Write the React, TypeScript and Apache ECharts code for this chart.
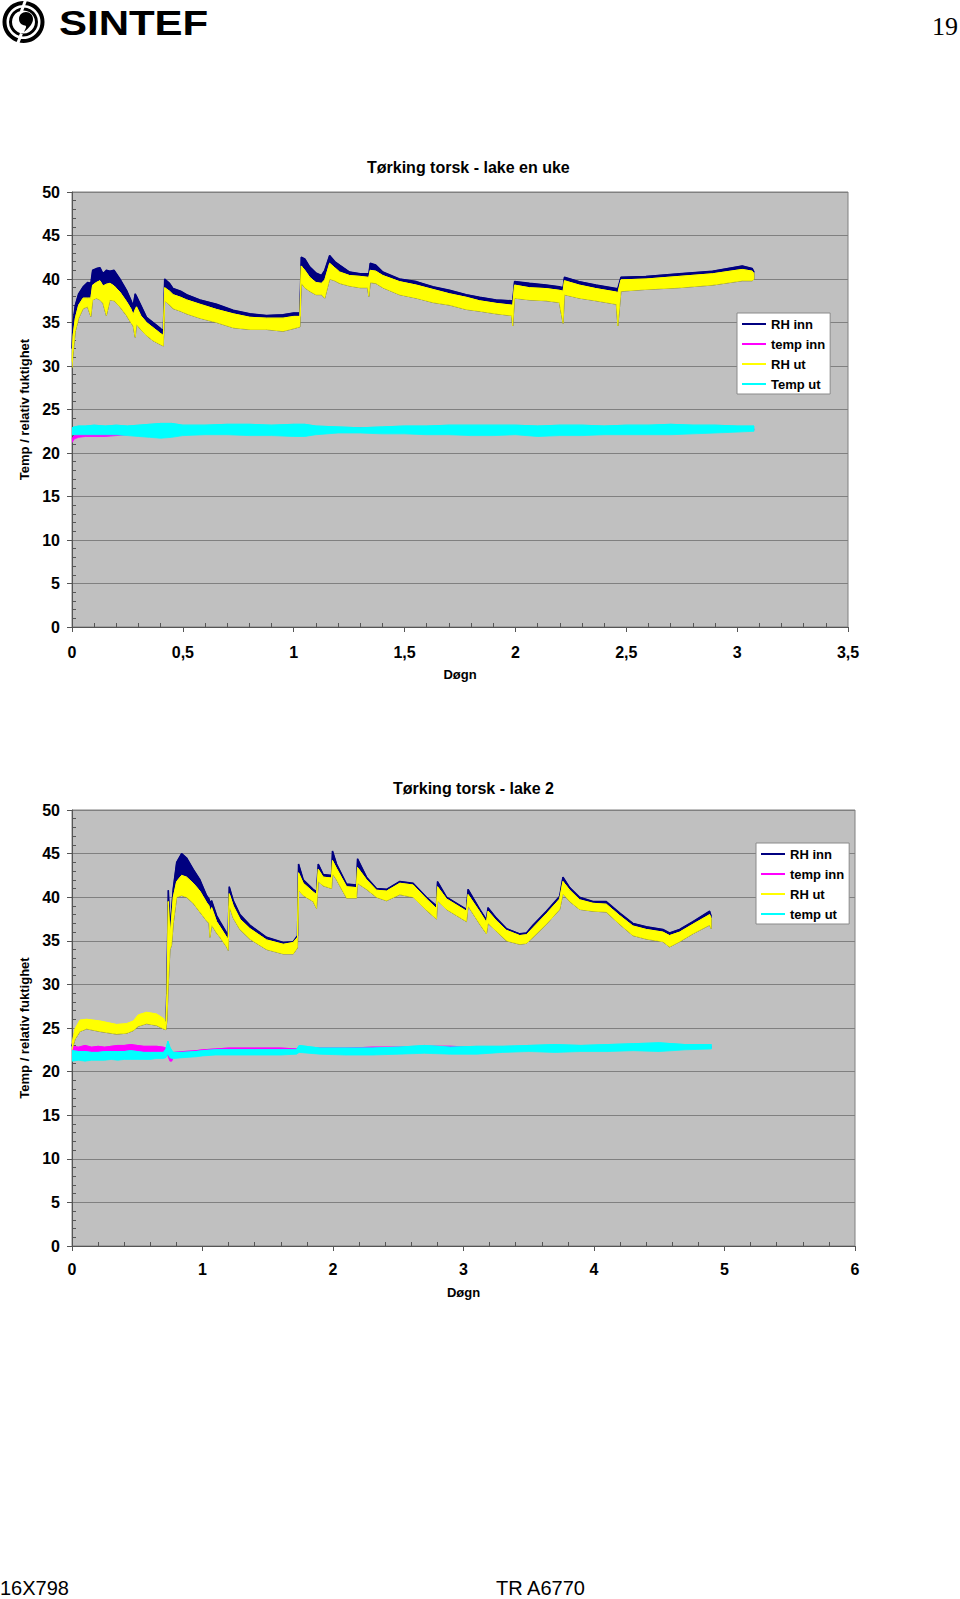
import React, { useEffect, useRef } from "react";
import * as echarts from "echarts";

// ---------------- Chart 1: "Tørking torsk - lake en uke" ----------------
const c1Title = "Tørking torsk - lake en uke";
const c1Legend = ["RH inn", "temp inn", "RH ut", "Temp ut"];
const c1Days = [0, 0.005, 0.015, 0.03, 0.05, 0.07, 0.085, 0.093, 0.11, 0.126, 0.14, 0.155, 0.171, 0.19, 0.216, 0.246, 0.265, 0.276, 0.285, 0.291, 0.31, 0.336, 0.366, 0.396, 0.412, 0.418, 0.44, 0.456, 0.49, 0.517, 0.577, 0.652, 0.727, 0.802, 0.877, 0.952, 1.0, 1.028, 1.034, 1.05, 1.072, 1.1, 1.125, 1.14, 1.162, 1.185, 1.207, 1.252, 1.3, 1.333, 1.339, 1.345, 1.37, 1.402, 1.477, 1.553, 1.628, 1.703, 1.778, 1.838, 1.913, 1.982, 1.988, 1.996, 2.063, 2.138, 2.198, 2.215, 2.221, 2.288, 2.363, 2.455, 2.462, 2.476, 2.589, 2.739, 2.889, 3.023, 3.068, 3.076];
// upper edge of the "RH inn" trace
const c1RhInnTop = [32.0, 35.0, 37.0, 38.3, 39.1, 39.6, 39.5, 41.0, 41.2, 41.3, 40.6, 41.0, 40.9, 41.0, 40.0, 38.7, 37.6, 36.9, 38.3, 38.0, 37.0, 35.6, 35.0, 34.4, 34.0, 40.0, 39.5, 38.9, 38.6, 38.2, 37.6, 37.1, 36.4, 36.0, 35.8, 35.9, 36.1, 36.1, 42.5, 42.3, 41.4, 40.7, 40.4, 41.0, 42.7, 42.0, 41.6, 40.8, 40.6, 40.6, 40.6, 41.8, 41.6, 40.8, 40.0, 39.7, 39.1, 38.7, 38.2, 37.9, 37.6, 37.5, 37.5, 39.7, 39.5, 39.3, 39.1, 39.0, 40.2, 39.7, 39.3, 38.9, 38.9, 40.2, 40.3, 40.6, 40.9, 41.5, 41.2, 40.8];
// upper / lower edge of the "RH ut" trace
const c1RhUtTop = [30.5, 33.5, 35.5, 37.0, 37.8, 37.8, 37.8, 39.3, 39.6, 39.8, 39.2, 39.4, 39.5, 39.2, 38.5, 37.4, 36.6, 35.9, 36.5, 36.8, 35.8, 35.0, 34.4, 33.8, 33.5, 39.0, 38.6, 38.2, 37.9, 37.6, 37.1, 36.5, 36.0, 35.6, 35.5, 35.5, 35.7, 35.7, 41.5, 41.0, 40.2, 39.6, 39.5, 39.9, 41.8, 41.3, 40.8, 40.4, 40.3, 40.2, 40.2, 41.0, 40.9, 40.4, 39.7, 39.3, 38.8, 38.3, 37.9, 37.5, 37.2, 37.0, 37.0, 39.3, 39.0, 38.9, 38.7, 38.6, 39.8, 39.3, 38.9, 38.5, 38.4, 39.9, 40.0, 40.3, 40.6, 41.1, 40.9, 40.6];
const c1RhUtBottom = [29.8, 31.5, 34.0, 35.5, 36.6, 36.8, 35.7, 37.6, 37.8, 37.6, 37.2, 35.8, 37.6, 37.5, 36.8, 35.8, 35.0, 34.6, 33.3, 34.8, 34.2, 33.5, 32.9, 32.5, 32.3, 37.5, 37.0, 36.6, 36.3, 36.0, 35.5, 35.0, 34.4, 34.2, 34.2, 34.0, 34.3, 34.5, 39.5, 39.0, 38.6, 38.2, 38.2, 37.8, 40.0, 39.8, 39.5, 39.2, 39.0, 39.0, 38.0, 39.6, 39.5, 39.0, 38.2, 37.8, 37.3, 37.0, 36.5, 36.3, 36.0, 35.8, 34.6, 37.8, 37.6, 37.5, 37.3, 34.9, 38.2, 37.8, 37.5, 37.1, 34.6, 38.6, 38.8, 39.0, 39.3, 39.8, 39.8, 40.0];
const c1TempDays = [0, 0.01, 0.03, 0.06, 0.1, 0.15, 0.2, 0.25, 0.3, 0.35, 0.4, 0.45, 0.5, 0.6, 0.7, 0.8, 0.9, 1.0, 1.05, 1.1, 1.2, 1.3, 1.4, 1.5, 1.6, 1.7, 1.8, 1.9, 2.0, 2.1, 2.2, 2.3, 2.4, 2.5, 2.6, 2.7, 2.8, 2.9, 3.0, 3.076];
const c1TempInnTop = [21.6, 22.0, 22.3, 22.4, 22.3, 22.3, 22.3, 22.4, 22.5, 22.6, 22.6, 22.6, 22.7, 22.7, 22.7, 22.7, 22.8, 22.8, 22.8, 22.8, 22.8, 22.9, 22.8, 22.8, 22.8, 22.8, 22.8, 22.8, 22.8, 22.8, 22.8, 22.8, 22.8, 22.8, 22.8, 22.8, 22.8, 22.8, 22.8, 22.8];
const c1TempInnBottom = [21.2, 21.6, 21.8, 21.9, 21.9, 21.9, 22.0, 22.1, 22.2, 22.3, 22.3, 22.4, 22.4, 22.4, 22.5, 22.5, 22.5, 22.6, 22.6, 22.6, 22.6, 22.7, 22.6, 22.6, 22.6, 22.6, 22.6, 22.6, 22.6, 22.6, 22.6, 22.6, 22.6, 22.6, 22.6, 22.6, 22.6, 22.6, 22.6, 22.6];
const c1TempUtTop = [22.9, 23.0, 23.1, 23.1, 23.2, 23.1, 23.2, 23.1, 23.2, 23.3, 23.4, 23.4, 23.2, 23.2, 23.3, 23.3, 23.2, 23.3, 23.3, 23.1, 23.0, 22.9, 23.0, 23.1, 23.1, 23.2, 23.2, 23.2, 23.2, 23.1, 23.2, 23.2, 23.1, 23.2, 23.2, 23.3, 23.2, 23.2, 23.1, 23.1];
const c1TempUtBottom = [22.1, 22.1, 22.1, 22.1, 22.1, 22.1, 22.1, 22.0, 21.9, 21.8, 21.7, 21.8, 22.0, 22.1, 22.1, 22.0, 22.0, 21.9, 21.9, 22.1, 22.3, 22.3, 22.2, 22.2, 22.1, 22.1, 22.0, 22.0, 22.1, 21.9, 22.0, 22.0, 22.1, 22.1, 22.1, 22.1, 22.2, 22.3, 22.4, 22.5];

// ---------------- Chart 2: "Tørking torsk - lake 2" ----------------
const c2Title = "Tørking torsk - lake 2";
const c2Legend = ["RH inn", "temp inn", "RH ut", "temp ut"];
const c2Days = [0, 0.023, 0.061, 0.112, 0.214, 0.342, 0.419, 0.470, 0.508, 0.572, 0.648, 0.700, 0.720, 0.728, 0.738, 0.751, 0.763, 0.776, 0.802, 0.840, 0.878, 0.929, 0.980, 1.031, 1.050, 1.057, 1.070, 1.108, 1.134, 1.185, 1.197, 1.205, 1.236, 1.287, 1.363, 1.491, 1.619, 1.695, 1.728, 1.736, 1.772, 1.848, 1.874, 1.887, 1.925, 1.989, 1.996, 2.027, 2.104, 2.180, 2.188, 2.257, 2.333, 2.410, 2.512, 2.614, 2.716, 2.793, 2.801, 2.870, 3.023, 3.035, 3.125, 3.176, 3.188, 3.252, 3.329, 3.431, 3.482, 3.533, 3.635, 3.737, 3.762, 3.814, 3.890, 3.992, 4.094, 4.196, 4.298, 4.401, 4.528, 4.579, 4.656, 4.758, 4.886, 4.898];
const c2RhInnTop = [22.9, 24.6, 25.6, 25.7, 25.5, 25.1, 25.2, 25.5, 26.2, 26.5, 26.3, 25.8, 25.2, 30.0, 40.8, 36.5, 38.5, 41.0, 44.0, 45.0, 44.5, 43.2, 42.0, 40.2, 39.8, 39.3, 39.6, 37.9, 37.2, 35.9, 35.6, 41.2, 39.6, 38.0, 36.8, 35.4, 34.8, 34.9, 35.6, 43.8, 42.0, 40.9, 40.6, 43.8, 42.6, 42.5, 45.3, 43.8, 41.5, 41.4, 44.4, 42.3, 41.0, 40.9, 41.8, 41.6, 40.0, 39.0, 41.8, 40.0, 38.6, 40.9, 38.6, 37.4, 38.8, 37.6, 36.4, 35.8, 35.9, 36.8, 38.4, 40.1, 42.3, 41.1, 40.0, 39.5, 39.5, 38.2, 37.0, 36.6, 36.3, 35.9, 36.3, 37.2, 38.4, 37.8];
const c2RhUtTop = [23.2, 24.9, 25.9, 26.0, 25.8, 25.4, 25.5, 25.8, 26.5, 26.8, 26.6, 26.1, 25.5, 29.0, 39.5, 35.5, 37.5, 40.0, 41.8, 42.5, 42.3, 41.6, 40.7, 39.4, 39.0, 38.3, 38.8, 37.2, 36.6, 35.4, 35.2, 40.4, 39.0, 37.5, 36.4, 35.1, 34.6, 34.8, 35.4, 42.8, 41.6, 40.6, 40.3, 43.2, 42.3, 42.2, 44.2, 43.3, 41.2, 41.1, 43.4, 42.0, 40.8, 40.7, 41.6, 41.4, 39.8, 38.7, 41.2, 39.8, 38.4, 40.3, 38.3, 37.1, 38.4, 37.3, 36.2, 35.6, 35.7, 36.5, 38.1, 39.8, 41.8, 40.8, 39.7, 39.3, 39.2, 37.9, 36.7, 36.3, 36.0, 35.6, 36.0, 36.9, 38.0, 37.5];
const c2RhUtBottom = [22.5, 23.7, 24.6, 24.9, 24.6, 24.3, 24.4, 24.7, 25.2, 25.5, 25.3, 24.9, 24.8, 26.0, 30.0, 34.0, 34.5, 37.0, 40.0, 40.2, 40.0, 39.3, 38.3, 37.3, 37.0, 35.4, 36.8, 35.9, 35.4, 34.3, 33.9, 39.0, 37.6, 36.3, 35.2, 34.0, 33.5, 33.5, 34.2, 40.8, 40.2, 39.5, 38.7, 41.8, 41.3, 41.0, 42.7, 42.0, 39.9, 39.9, 41.6, 40.9, 40.0, 39.6, 40.3, 40.0, 38.5, 37.5, 39.6, 38.6, 37.2, 39.0, 36.9, 35.8, 37.0, 36.1, 35.0, 34.6, 34.7, 35.4, 36.9, 38.6, 40.4, 39.5, 38.6, 38.4, 38.3, 36.9, 35.6, 35.2, 34.9, 34.3, 34.9, 35.8, 36.8, 36.4];
const c2TempDays = [0, 0.05, 0.1, 0.15, 0.2, 0.25, 0.3, 0.35, 0.4, 0.45, 0.5, 0.55, 0.6, 0.65, 0.7, 0.72, 0.735, 0.75, 0.765, 0.78, 0.85, 0.95, 1.0, 1.1, 1.2, 1.4, 1.6, 1.72, 1.74, 1.9, 2.1, 2.3, 2.5, 2.7, 2.9, 3.1, 3.3, 3.5, 3.7, 3.9, 4.1, 4.3, 4.5, 4.7, 4.9];
const c2TempInnTop = [22.9, 22.8, 23.0, 22.8, 22.9, 22.8, 22.9, 23.0, 23.0, 23.1, 23.0, 22.9, 22.9, 22.9, 22.8, 22.7, 22.5, 22.0, 21.9, 22.2, 22.3, 22.4, 22.5, 22.6, 22.7, 22.7, 22.7, 22.6, 22.8, 22.7, 22.7, 22.8, 22.8, 22.9, 22.9, 22.8, 22.8, 22.9, 22.9, 22.9, 22.9, 22.9, 22.9, 22.9, 22.9];
const c2TempInnBottom = [22.1, 22.1, 22.2, 22.1, 22.2, 22.1, 22.2, 22.2, 22.3, 22.3, 22.3, 22.2, 22.2, 22.2, 22.1, 22.0, 21.8, 21.2, 21.2, 21.8, 22.0, 22.2, 22.3, 22.4, 22.5, 22.5, 22.5, 22.4, 22.5, 22.5, 22.5, 22.6, 22.6, 22.7, 22.7, 22.6, 22.6, 22.7, 22.7, 22.7, 22.7, 22.7, 22.7, 22.7, 22.7];
const c2TempUtTop = [22.4, 22.3, 22.3, 22.2, 22.2, 22.3, 22.3, 22.3, 22.3, 22.4, 22.3, 22.2, 22.2, 22.2, 22.2, 22.6, 23.5, 22.8, 22.4, 22.2, 22.2, 22.3, 22.4, 22.5, 22.5, 22.5, 22.5, 22.5, 23.0, 22.7, 22.7, 22.7, 22.8, 23.0, 22.8, 22.9, 22.9, 23.0, 23.1, 23.0, 23.1, 23.2, 23.3, 23.1, 23.1];
const c2TempUtBottom = [21.2, 21.3, 21.2, 21.3, 21.3, 21.3, 21.4, 21.3, 21.4, 21.4, 21.4, 21.4, 21.4, 21.5, 21.5, 21.6, 22.0, 21.6, 21.5, 21.5, 21.6, 21.7, 21.8, 21.9, 21.9, 21.9, 21.9, 22.0, 22.2, 22.0, 21.9, 21.9, 22.0, 22.1, 22.0, 22.0, 22.2, 22.3, 22.2, 22.3, 22.3, 22.4, 22.3, 22.5, 22.6];

// ---------------- page texts ----------------
const pageNumber = "19";
const footerLeft = "16X798";
const footerRight = "TR A6770";
const yAxisName = "Temp / relativ fuktighet";
const xAxisName = "Døgn";

const NAVY = "#000080";
const MAGENTA = "#FF00FF";
const YELLOW = "#FFFF00";
const CYAN = "#00FFFF";
const FONT = '"Liberation Sans", Arial, sans-serif';
const AXIS_COLOR = "#555555";

echarts.graphic.registerShape(
  "sintefComma",
  echarts.graphic.extendPath(
    "M7,0 C11,0 14,3 14,7 C14,11 11,15 5,20 C7,16 8,14 6,13.5 C2.5,13 0,10.5 0,7 C0,3 3,0 7,0 Z",
    {}
  )
);

// A noisy logger trace drawn as its envelope: filled band between upper and lower edge,
// plus a line on the upper edge (that line also supplies the legend entry).
// Each trace gets its own z so later traces cover earlier ones.
function trace(id: string, name: string, gi: number, days: number[], top: number[], bottom: number[], color: string, lineWidth: number, z: number) {
  return [
    {
      id: id + "-band",
      name: id + "-band",
      type: "custom",
      z,
      xAxisIndex: gi,
      yAxisIndex: gi,
      data: days.map((d, i) => [d, top[i], bottom[i]]),
      encode: { x: 0, y: [1, 2] },
      clip: true,
      silent: true,
      renderItem: (params: any, api: any) => {
        if (params.dataIndex !== 0) return null;
        const upper = days.map((d, i) => api.coord([d, top[i]]));
        const lower = days.map((d, i) => api.coord([d, bottom[i]])).reverse();
        return {
          type: "polygon",
          shape: { points: upper.concat(lower) },
          style: { fill: color, stroke: color, lineWidth: 0.8 },
        };
      },
    },
    {
      id,
      name,
      type: "line",
      z,
      xAxisIndex: gi,
      yAxisIndex: gi,
      data: days.map((d, i) => [d, top[i]]),
      symbol: "none",
      showSymbol: false,
      lineStyle: { color, width: lineWidth },
      itemStyle: { color },
      silent: true,
    },
  ];
}

function xAxis(gi: number, max: number, interval: number, labelMargin: number, nameGap: number) {
  return {
    gridIndex: gi,
    type: "value",
    min: 0,
    max,
    interval,
    name: xAxisName,
    nameLocation: "middle",
    nameGap,
    nameTextStyle: { fontFamily: FONT, fontWeight: "bold", fontSize: 13, color: "#000" },
    axisLine: { show: true, onZero: false, lineStyle: { color: AXIS_COLOR, width: 1 } },
    axisTick: { show: true, inside: false, length: 5, lineStyle: { color: AXIS_COLOR } },
    minorTick: { show: true, splitNumber: 5, length: -4, lineStyle: { color: AXIS_COLOR } },
    axisLabel: {
      margin: labelMargin,
      fontFamily: FONT,
      fontWeight: "bold",
      fontSize: 16,
      color: "#000",
      showMinLabel: true,
      showMaxLabel: true,
      formatter: (v: number) => String(v).replace(".", ","),
    },
    splitLine: { show: false },
    minorSplitLine: { show: false },
  };
}

function yAxis(gi: number) {
  return {
    gridIndex: gi,
    type: "value",
    min: 0,
    max: 50,
    interval: 5,
    name: yAxisName,
    nameLocation: "middle",
    nameGap: 37,
    nameTextStyle: { fontFamily: FONT, fontWeight: "bold", fontSize: 13, color: "#000" },
    axisLine: { show: true, onZero: false, lineStyle: { color: AXIS_COLOR, width: 1 } },
    axisTick: { show: true, inside: false, length: 5, lineStyle: { color: AXIS_COLOR } },
    minorTick: { show: true, splitNumber: 5, length: -4, lineStyle: { color: AXIS_COLOR } },
    axisLabel: {
      margin: 12,
      fontFamily: FONT,
      fontWeight: "bold",
      fontSize: 16,
      color: "#000",
      showMinLabel: true,
      showMaxLabel: true,
    },
    splitLine: { show: true, lineStyle: { color: "#808080", width: 1 } },
    minorSplitLine: { show: false },
  };
}

function legend(data: string[], left: number, top: number) {
  return {
    data,
    orient: "vertical",
    left,
    top,
    z: 20,
    padding: [4, 5, 3, 4],
    itemGap: 6,
    itemWidth: 24,
    itemHeight: 14,
    backgroundColor: "#ffffff",
    borderColor: "#8a8a8a",
    borderWidth: 1,
    borderRadius: 0,
    selectedMode: false,
    lineStyle: { width: 2 },
    itemStyle: { opacity: 0 },
    textStyle: { fontFamily: FONT, fontWeight: "bold", fontSize: 13, color: "#000", lineHeight: 14 },
  };
}

function pageText(text: string, x: number, y: number, font: string, align: string) {
  return {
    type: "text",
    x,
    y,
    silent: true,
    style: {
      text,
      font,
      fill: "#000",
      textAlign: align,
      align,
      textVerticalAlign: "middle",
      verticalAlign: "middle",
    },
  };
}

function buildOption() {
  const gridBase = { show: true, backgroundColor: "#c0c0c0", borderColor: "#808080", borderWidth: 1 };
  return {
    animation: false,
    backgroundColor: "#ffffff",
    title: [
      { text: c1Title, left: 367, top: 159, padding: 0, textStyle: { fontFamily: FONT, fontWeight: "bold", fontSize: 16, color: "#000" } },
      { text: c2Title, left: 393, top: 780, padding: 0, textStyle: { fontFamily: FONT, fontWeight: "bold", fontSize: 16, color: "#000" } },
    ],
    legend: [legend(c1Legend, 737, 313), legend(c2Legend, 756, 843)],
    grid: [
      { ...gridBase, left: 72, top: 192, width: 776, height: 435 },
      { ...gridBase, left: 72, top: 810, width: 783, height: 436 },
    ],
    xAxis: [xAxis(0, 3.5, 0.5, 17, 41), xAxis(1, 6, 1, 15, 40)],
    yAxis: [yAxis(0), yAxis(1)],
    series: [
      ...trace("c1-rhinn", c1Legend[0], 0, c1Days, c1RhInnTop, c1RhUtBottom, NAVY, 1.5, 3),
      ...trace("c1-tempinn", c1Legend[1], 0, c1TempDays, c1TempInnTop, c1TempInnBottom, MAGENTA, 1, 4),
      ...trace("c1-rhut", c1Legend[2], 0, c1Days, c1RhUtTop, c1RhUtBottom, YELLOW, 1, 5),
      ...trace("c1-temput", c1Legend[3], 0, c1TempDays, c1TempUtTop, c1TempUtBottom, CYAN, 1, 6),
      ...trace("c2-rhinn", c2Legend[0], 1, c2Days, c2RhInnTop, c2RhUtBottom, NAVY, 1.5, 3),
      ...trace("c2-tempinn", c2Legend[1], 1, c2TempDays, c2TempInnTop, c2TempInnBottom, MAGENTA, 1, 4),
      ...trace("c2-rhut", c2Legend[2], 1, c2Days, c2RhUtTop, c2RhUtBottom, YELLOW, 1, 5),
      ...trace("c2-temput", c2Legend[3], 1, c2TempDays, c2TempUtTop, c2TempUtBottom, CYAN, 1, 6),
    ],
    graphic: [
      { type: "ring", silent: true, shape: { cx: 23.5, cy: 22, r: 21, r0: 17 }, style: { fill: "#000" } },
      { type: "ring", silent: true, shape: { cx: 23.5, cy: 22, r: 14.5, r0: 11.5 }, style: { fill: "#000" } },
      { type: "rect", silent: true, x: 24, y: 0, rotation: -0.35, shape: { x: 0, y: 0, width: 3, height: 12 }, style: { fill: "#fff" } },
      { type: "rect", silent: true, x: 20, y: 33, rotation: -0.35, shape: { x: 0, y: 0, width: 3, height: 12 }, style: { fill: "#fff" } },
      { type: "sintefComma", silent: true, x: 19, y: 12, style: { fill: "#000" } },
      {
        type: "text",
        x: 59,
        y: 22.5,
        scaleX: 1.2,
        silent: true,
        style: { text: "SINTEF", font: 'bold 35px "Liberation Sans", Arial, sans-serif', fill: "#000", textVerticalAlign: "middle", verticalAlign: "middle" },
      },
      pageText(pageNumber, 958, 26, '26px "Liberation Serif", "Times New Roman", serif', "right"),
      pageText(footerLeft, 0, 1588, '20px "Liberation Sans Narrow", "Arial Narrow", Arial, sans-serif', "left"),
      pageText(footerRight, 496, 1588, '20px "Liberation Sans Narrow", "Arial Narrow", Arial, sans-serif', "left"),
    ],
  };
}

export default function App() {
  const ref = useRef<HTMLDivElement>(null);
  useEffect(() => {
    if (!ref.current) return;
    const chart = echarts.init(ref.current, null, { renderer: "svg" });
    chart.setOption(buildOption() as any);
    return () => chart.dispose();
  }, []);
  return (
    <div
      ref={ref}
      style={{ position: "absolute", left: 0, top: 0, width: 960, height: 1599, background: "#ffffff" }}
    />
  );
}
